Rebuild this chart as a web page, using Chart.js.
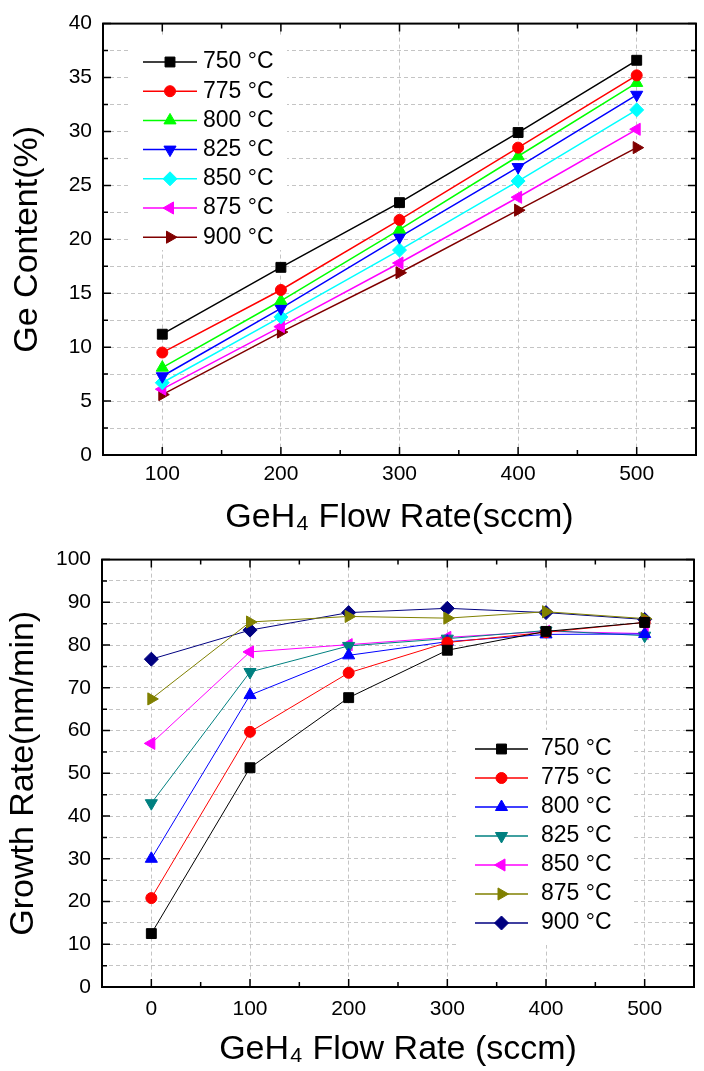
<!DOCTYPE html>
<html>
<head>
<meta charset="utf-8">
<script src="https://cdn.jsdelivr.net/npm/chart.js@4.4.0/dist/chart.umd.min.js"></script>
<style>
  body { margin: 0; background: #fff; }
  canvas { display: block; }
</style>
</head>
<body>
<canvas id="geContent" width="704" height="536"></canvas>
<canvas id="growthRate" width="704" height="535"></canvas>
<script>
  // data
  const temperatures = ['750 °C', '775 °C', '800 °C', '825 °C', '850 °C', '875 °C', '900 °C'];

  const flowTop = [100, 200, 300, 400, 500];
  const ge750 = [11.2, 17.4, 23.4, 29.9, 36.6];
  const ge775 = [9.5, 15.3, 21.8, 28.5, 35.2];
  const ge800 = [8.1, 14.3, 20.9, 27.7, 34.5];
  const ge825 = [7.3, 13.6, 20.2, 26.7, 33.4];
  const ge850 = [6.7, 12.8, 19.0, 25.4, 32.0];
  const ge875 = [6.1, 11.9, 17.8, 23.9, 30.2];
  const ge900 = [5.6, 11.4, 16.9, 22.7, 28.5];

  const flowBottom = [0, 100, 200, 300, 400, 500];
  const gr750 = [12.5, 51.3, 67.7, 78.8, 83.2, 85.3];
  const gr775 = [20.8, 59.7, 73.5, 80.6, 83.0, 85.3];
  const gr800 = [30.0, 68.3, 77.6, 80.8, 82.5, 82.6];
  const gr825 = [43.0, 73.7, 79.8, 81.5, 83.4, 82.2];
  const gr850 = [57.0, 78.4, 80.1, 81.8, 83.2, 82.7];
  const gr875 = [67.4, 85.4, 86.7, 86.3, 87.8, 86.2];
  const gr900 = [76.7, 83.5, 87.6, 88.6, 87.6, 86.0];

  const topTicksY = { min: 0, max: 40, step: 2.5, major: 5 };
  const topTicksX = { min: 50, max: 550, step: 50, major: 100 };
  const botTicksY = { min: 0, max: 100, step: 5, major: 10 };
  const botTicksX = { min: -50, max: 550, step: 50, major: 100 };

  const FONT = '"Liberation Sans", Arial, sans-serif';
  const GRID = '#c4c4c4';

  const isMajor = (v, m) => Math.abs(v / m - Math.round(v / m)) < 1e-6;

  const framePlugin = {
    id: 'frame',
    afterDraw(chart, args, opts) {
      const { ctx, chartArea: a, scales } = chart;
      ctx.save();
      ctx.strokeStyle = '#000';
      ctx.lineWidth = 1.5;
      const marks = (scale, major, horizontal) => {
        scale.ticks.forEach(t => {
          const p = scale.getPixelForValue(t.value);
          const len = isMajor(t.value, major) ? 8 : 5;
          ctx.beginPath();
          if (horizontal) {
            ctx.moveTo(p, a.bottom); ctx.lineTo(p, a.bottom - len);
            ctx.moveTo(p, a.top); ctx.lineTo(p, a.top + len);
          } else {
            ctx.moveTo(a.left, p); ctx.lineTo(a.left + len, p);
            ctx.moveTo(a.right, p); ctx.lineTo(a.right - len, p);
          }
          ctx.stroke();
        });
      };
      marks(scales.x, opts.xMajor, true);
      marks(scales.y, opts.yMajor, false);
      ctx.lineWidth = 2;
      ctx.strokeRect(a.left, a.top, a.right - a.left, a.bottom - a.top);
      ctx.restore();
    }
  };

  const boxLegend = {
    id: 'boxLegend',
    beforeDatasetsDraw(chart, args, o) {
      const ctx = chart.ctx;
      ctx.save();
      ctx.fillStyle = '#fff';
      ctx.fillRect(o.box[0], o.box[1], o.box[2] - o.box[0], o.box[3] - o.box[1]);
      chart.data.datasets.forEach((ds, i) => {
        const y = o.y + i * o.gap;
        ctx.strokeStyle = ds.borderColor;
        ctx.lineWidth = 1.5;
        ctx.beginPath();
        ctx.moveTo(o.x0, y);
        ctx.lineTo(o.x1, y);
        ctx.stroke();
        ctx.fillStyle = ds.backgroundColor;
        ctx.lineWidth = 1;
        Chart.helpers.drawPoint(ctx, {
          pointStyle: ds.pointStyle,
          rotation: ds.pointRotation || 0,
          radius: ds.pointRadius,
          borderWidth: 1
        }, (o.x0 + o.x1) / 2, y);
        ctx.fillStyle = '#000';
        ctx.font = '23px ' + FONT;
        ctx.textBaseline = 'middle';
        ctx.textAlign = 'left';
        ctx.fillText(ds.label, o.tx, y);
      });
      ctx.restore();
    }
  };

  function series(xs, ys, label, color, style, rotation, radius, width) {
    return {
      label: label,
      data: xs.map((x, i) => ({ x: x, y: ys[i] })),
      borderColor: color,
      backgroundColor: color,
      borderWidth: width,
      pointStyle: style,
      pointRotation: rotation,
      pointRadius: radius,
      pointBorderWidth: 1,
      pointBorderColor: color,
      pointBackgroundColor: color,
      tension: 0
    };
  }

  function axes(tx, ty, xTitle, yTitle, yWidth, xHeight, xPad, yTitlePad, xTitlePad) {
    return {
      x: {
        type: 'linear',
        min: tx.min, max: tx.max,
        afterFit: s => { s.height = xHeight; },
        ticks: {
          stepSize: tx.step, autoSkip: false, maxRotation: 0, padding: xPad,
          color: '#000', font: { family: FONT, size: 21 },
          callback: v => isMajor(v, tx.major) ? String(v) : ''
        },
        grid: {
          drawTicks: false,
          color: c => isMajor(c.tick.value, tx.major) && c.tick.value > tx.min && c.tick.value < tx.max ? GRID : 'rgba(0,0,0,0)'
        },
        border: { display: false, dash: [4, 3] },
        title: {
          display: true, text: xTitle, color: '#000',
          font: { family: FONT, size: 34, lineHeight: 1 },
          padding: { top: 0, bottom: xTitlePad }
        }
      },
      y: {
        min: ty.min, max: ty.max,
        afterFit: s => { s.width = yWidth; },
        ticks: {
          stepSize: ty.step, autoSkip: false, padding: 11,
          color: '#000', font: { family: FONT, size: 21 },
          callback: v => isMajor(v, ty.major) ? String(v) : ''
        },
        grid: {
          drawTicks: false,
          color: c => c.tick.value > ty.min && c.tick.value < ty.max ? GRID : 'rgba(0,0,0,0)'
        },
        border: { display: false, dash: [4, 3] },
        title: {
          display: true, text: yTitle, color: '#000',
          font: { family: FONT, size: 34, lineHeight: 1 },
          padding: { top: yTitlePad, bottom: 0 }
        }
      }
    };
  }

  new Chart(document.getElementById('geContent'), {
    type: 'line',
    data: {
      datasets: [
        series(flowTop, ge750, temperatures[0], '#000000', 'rect', 0, 7, 1.5),
        series(flowTop, ge775, temperatures[1], '#ff0000', 'circle', 0, 5.5, 1.5),
        series(flowTop, ge800, temperatures[2], '#00ff00', 'triangle', 0, 7, 1.5),
        series(flowTop, ge825, temperatures[3], '#0000ff', 'triangle', 180, 7, 1.5),
        series(flowTop, ge850, temperatures[4], '#00ffff', 'rectRot', 0, 7, 1.5),
        series(flowTop, ge875, temperatures[5], '#ff00ff', 'triangle', -90, 7, 1.5),
        series(flowTop, ge900, temperatures[6], '#800000', 'triangle', 90, 7, 1.5)
      ]
    },
    options: {
      responsive: false,
      animation: false,
      layout: { padding: { left: 0, top: 18, right: 5, bottom: 0 } },
      scales: axes(topTicksX, topTicksY, 'GeH\u2084 Flow Rate(sccm)', 'Ge Content(%)', 103, 81, 7, 11, 1),
      plugins: {
        legend: { display: false },
        tooltip: { enabled: false },
        frame: { xMajor: topTicksX.major, yMajor: topTicksY.major },
        boxLegend: { box: [128, 37, 287, 250], x0: 143, x1: 197, tx: 203, y: 62, gap: 29.2 }
      }
    },
    plugins: [framePlugin, boxLegend]
  });

  new Chart(document.getElementById('growthRate'), {
    type: 'line',
    data: {
      datasets: [
        series(flowBottom, gr750, temperatures[0], '#000000', 'rect', 0, 7, 1),
        series(flowBottom, gr775, temperatures[1], '#ff0000', 'circle', 0, 5.5, 1),
        series(flowBottom, gr800, temperatures[2], '#0000ff', 'triangle', 0, 7, 1),
        series(flowBottom, gr825, temperatures[3], '#008080', 'triangle', 180, 7, 1),
        series(flowBottom, gr850, temperatures[4], '#ff00ff', 'triangle', -90, 7, 1),
        series(flowBottom, gr875, temperatures[5], '#808000', 'triangle', 90, 7, 1),
        series(flowBottom, gr900, temperatures[6], '#000080', 'rectRot', 0, 7, 1)
      ]
    },
    options: {
      responsive: false,
      animation: false,
      layout: { padding: { left: 0, top: 14, right: 5, bottom: 0 } },
      scales: axes(botTicksX, botTicksY, 'GeH\u2084 Flow Rate (sccm)', 'Growth Rate(nm/min)', 102, 84, 10, 7, 4),
      plugins: {
        legend: { display: false },
        tooltip: { enabled: false },
        frame: { xMajor: botTicksX.major, yMajor: botTicksY.major },
        boxLegend: { box: [459, 194, 632, 409], x0: 475, x1: 528, tx: 541, y: 213, gap: 29 }
      }
    },
    plugins: [framePlugin, boxLegend]
  });
</script>
</body>
</html>
